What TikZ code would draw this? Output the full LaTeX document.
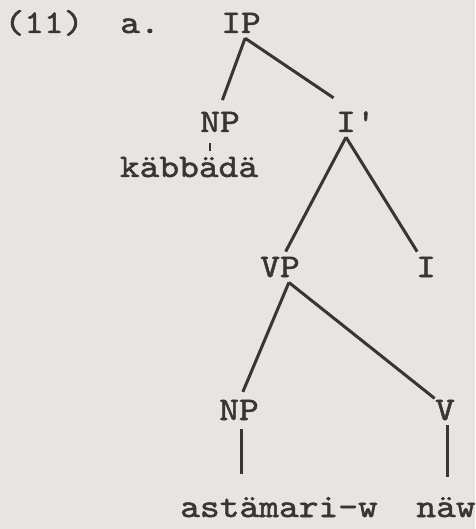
\documentclass[tikz,border=0pt]{standalone}
\usepackage{fontspec}
\setmonofont[FakeBold=1.5, FakeStretch=1.14]{lmmono10-regular.otf}
\usepackage{tikz}

\definecolor{paper}{HTML}{E7E4E2}
\definecolor{ink}{HTML}{3A3434}

\begin{document}
\begin{tikzpicture}[x=1pt, y=-1pt,
    cat/.style={anchor=base, inner sep=5pt, text=ink,
        font=\ttfamily\fontsize{33}{36}\selectfont},
    branch/.style={draw=ink, line width=3pt}]
    \fill[paper] (0,0) rectangle (475,529);
    \useasboundingbox (0,0) rectangle (475,529);

    % Example number
    \node[cat] (num) at (44,33) {(11)};
    \node[cat] (sub) at (140,33) {a.};

    % Categories
    \node[cat] (ip)   at (241,33)  {IP};
    \node[cat] (np1)  at (220,132) {NP};
    \node[cat] (ibar) at (346,132) {I\rlap{'}};
    \node[cat] (vp)   at (280,277) {VP};
    \node[cat] (infl) at (426,277) {I};
    \node[cat] (np2)  at (239,420) {NP};
    \node[cat] (verb) at (445,420) {V};

    % Words
    \node[cat] (subj) at (189,177) {käbbädä};
    \node[cat] (obj)  at (279,517) {astämari-w};
    \node[cat] (cop)  at (446,517) {näw};

    % Branches
    \draw[branch, shorten >=7pt] (ip.-75) -- (np1.north);
    \draw[branch, shorten >=15pt] (ip.-75) -- (ibar.north);
    \draw[branch, line width=2pt] ([xshift=-10pt, yshift=-6pt]np1.south) -- ([xshift=-10pt, yshift=-14pt]np1.south);
    \draw[branch] (ibar.south) -- (vp.70);
    \draw[branch] (ibar.south) -- (infl.120);
    \draw[branch, shorten >=3pt] (vp.-60) -- (np2.80);
    \draw[branch, shorten >=-6pt] (vp.-60) -- (verb.north west);
    \draw[branch, shorten <=4pt, shorten >=18pt] (np2.-80) -- (np2.-80 |- obj.north);
    \draw[branch, shorten <=0pt, shorten >=15pt] (verb.-80) -- (verb.-80 |- cop.north);
\end{tikzpicture}
\end{document}
